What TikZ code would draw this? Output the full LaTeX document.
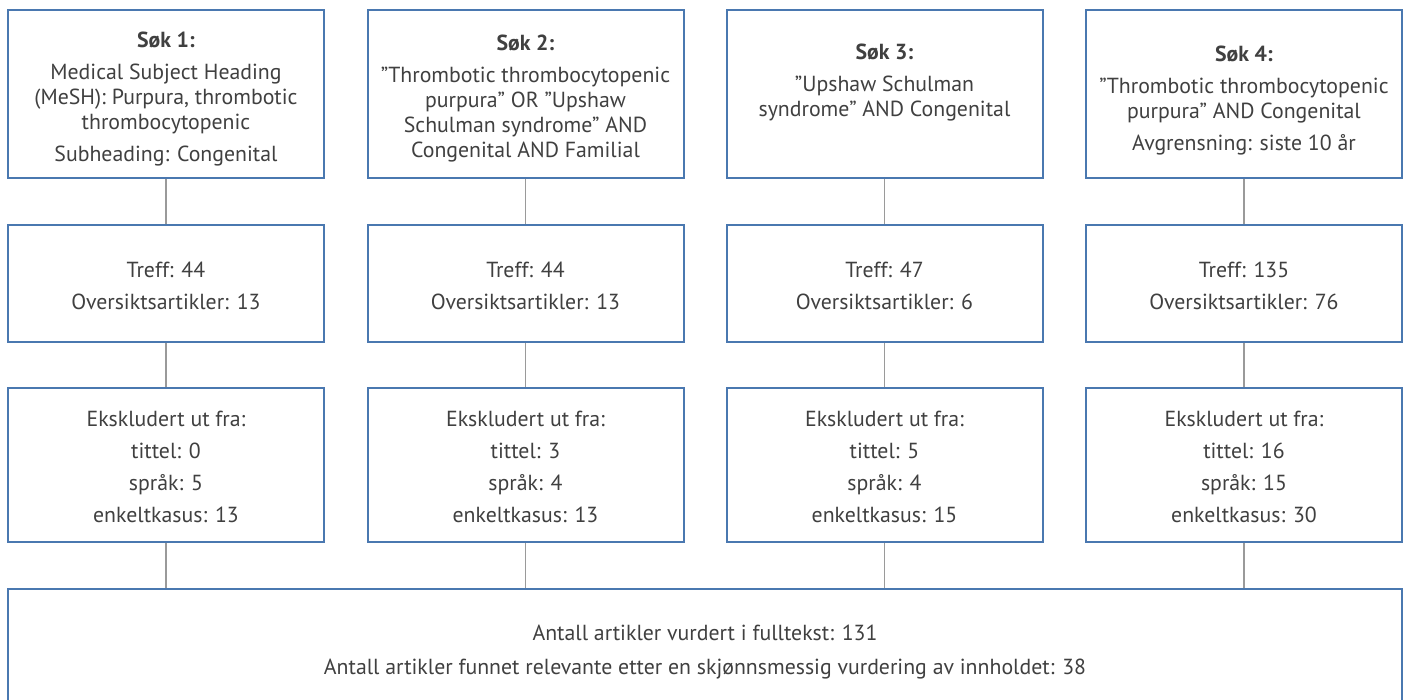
\documentclass[tikz,border=0pt]{standalone}
\usepackage{fontspec}
\setmainfont{PT Sans}
\definecolor{boxblue}{HTML}{4A78B0}
\definecolor{txtgray}{HTML}{404040}
\definecolor{linegray}{HTML}{9A9A9A}
\newcommand{\toppad}[1]{\rule{0pt}{#1}}
\begin{document}
\begin{tikzpicture}[x=1pt,y=-1pt,
  box/.style={draw=boxblue, line width=2pt, fill=white, inner sep=0pt, minimum width=316pt,
    text=txtgray, align=center, font=\fontsize{21.8}{25}\selectfont},
  conn/.style={draw=linegray, line width=1.3pt}]
\useasboundingbox (0,0) rectangle (1405,699);
\clip (0,0) rectangle (1405,699);
% row 1
\node[box, minimum height=168pt] (s1) at (166,94) {\toppad{26pt}\textbf{Søk 1:}\\[7pt]Medical Subject Heading\\(MeSH): Purpura, thrombotic\\thrombocytopenic\\[7pt]Subheading: Congenital};
\node[box, minimum height=168pt] (s2) at (525.5,94) {\toppad{24pt}\textbf{Søk 2:}\\[7pt]”Thrombotic thrombocytopenic\\purpura” OR ”Upshaw\\Schulman syndrome” AND\\Congenital AND Familial};
\node[box, minimum height=168pt] (s3) at (884.5,94) {\toppad{28pt}\textbf{Søk 3:}\\[7pt]”Upshaw Schulman\\syndrome” AND Congenital\\[7pt]\strut};
\node[box, minimum height=168pt] (s4) at (1244,94) {\toppad{28pt}\textbf{Søk 4:}\\[7pt]”Thrombotic thrombocytopenic\\purpura” AND Congenital\\[7pt]Avgrensning: siste 10 år};
% row 2
\node[box, minimum height=117pt] (t1) at (166,283.5) {\toppad{20pt}Treff: 44\\[7pt]Oversiktsartikler: 13};
\node[box, minimum height=117pt] (t2) at (525.5,283.5) {\toppad{20pt}Treff: 44\\[7pt]Oversiktsartikler: 13};
\node[box, minimum height=117pt] (t3) at (884.5,283.5) {\toppad{20pt}Treff: 47\\[7pt]Oversiktsartikler: 6};
\node[box, minimum height=117pt] (t4) at (1244,283.5) {\toppad{20pt}Treff: 135\\[7pt]Oversiktsartikler: 76};
% row 3
\node[box, minimum height=154pt] (e1) at (166,465) {\toppad{20pt}Ekskludert ut fra:\\[7pt]tittel: 0\\[7pt]språk: 5\\[7pt]enkeltkasus: 13};
\node[box, minimum height=154pt] (e2) at (525.5,465) {\toppad{20pt}Ekskludert ut fra:\\[7pt]tittel: 3\\[7pt]språk: 4\\[7pt]enkeltkasus: 13};
\node[box, minimum height=154pt] (e3) at (884.5,465) {\toppad{20pt}Ekskludert ut fra:\\[7pt]tittel: 5\\[7pt]språk: 4\\[7pt]enkeltkasus: 15};
\node[box, minimum height=154pt] (e4) at (1244,465) {\toppad{20pt}Ekskludert ut fra:\\[7pt]tittel: 16\\[7pt]språk: 15\\[7pt]enkeltkasus: 30};
% bottom
\node[box, minimum width=1394pt, minimum height=126pt] (sum) at (705,652) {Antall artikler vurdert i fulltekst: 131\\[9pt]Antall artikler funnet relevante etter en skjønnsmessig vurdering av innholdet: 38};
% connectors
\foreach \c in {1,2,3,4} {
  \draw[conn] (s\c.south) -- (t\c.north);
  \draw[conn] (t\c.south) -- (e\c.north);
  \draw[conn] (e\c.south) -- (e\c.south |- sum.north);
}
\end{tikzpicture}
\end{document}
